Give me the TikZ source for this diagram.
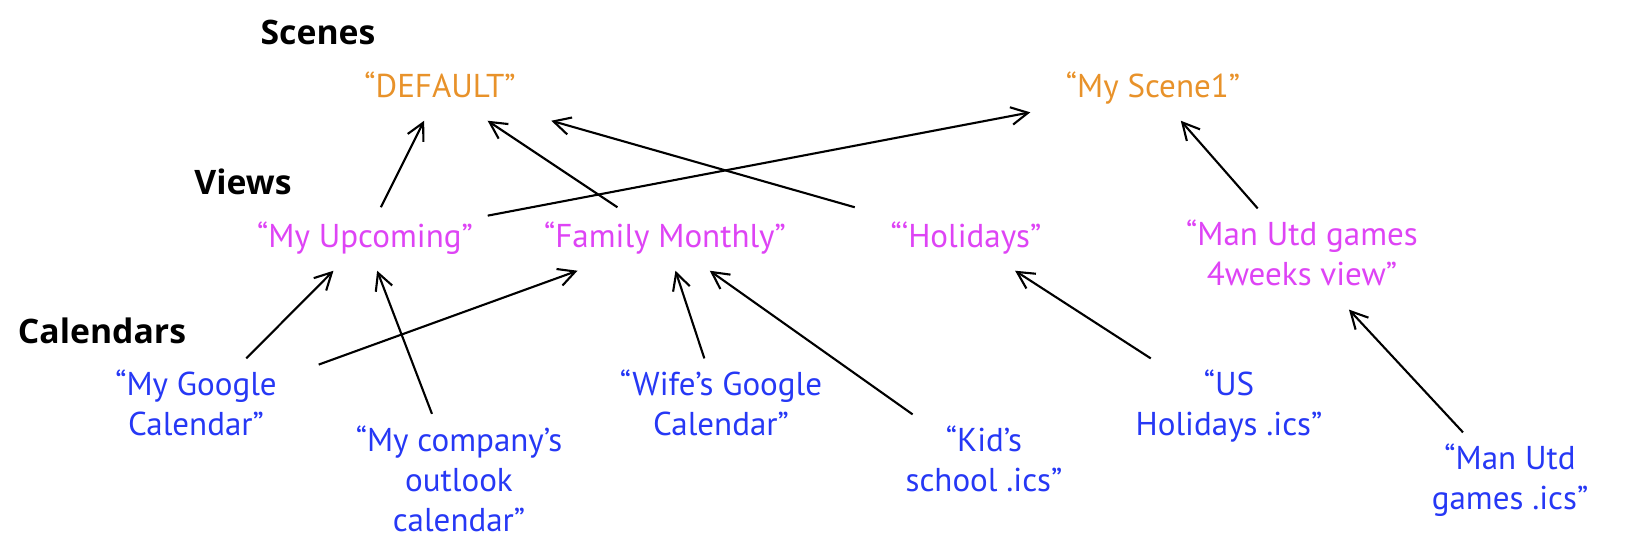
\documentclass[tikz,border=0pt]{standalone}
\usepackage{fontspec}
\setmainfont{PT Sans}
\newfontfamily\headfont{Open Sans}
\usepackage{tikz}
\usetikzlibrary{arrows.meta}
\definecolor{scenecolor}{RGB}{232,146,42}
\definecolor{viewcolor}{RGB}{222,68,245}
\definecolor{calcolor}{RGB}{38,56,245}
\tikzset{
	header/.style={
		font=\headfont\fontsize{9.6pt}{11.4pt}\selectfont\bfseries,
		inner sep=0pt,
	},
	box/.style={
		rectangle,
		minimum width=2.44cm,
		inner xsep=0pt,
		inner ysep=0.11cm,
		align=center,
		font=\fontsize{9.4pt}{11.4pt}\selectfont,
		execute at begin node=\strut,
		execute at end node=\strut,
	},
	scene/.style={
		box,
		text=scenecolor,
	},
	view/.style={
		box,
		text=viewcolor,
	},
	calendar/.style={
		box,
		text=calcolor,
	},
	arrow/.style={
		-{Straight Barb[length=4.8pt,width=5pt]},
		semithick,
	},
}
\begin{document}
\begin{tikzpicture}
		\useasboundingbox (0,0) rectangle (16.31,-5.52) ;

		% Level headers
		\node[header] (scenes) at (3.18,-0.32) {Scenes} ;
		\node[header] (views) at (2.43,-1.815) {Views} ;
		\node[header] (calendars) at (1.02,-3.31) {Calendars} ;

		% Scenes
		\node[scene] (default) at (4.40,-0.89) {“DEFAULT”} ;
		\node[scene] (scene1) at (11.53,-0.89) {“My Scene1”} ;

		% Views
		\node[view] (upcoming) at (3.65,-2.39) {“My Upcoming”} ;
		\node[view] (family) at (6.65,-2.39) {“Family Monthly”} ;
		\node[view] (holidays) at (9.66,-2.39) {“‘Holidays”} ;
		\node[view] (mutdview) at (13.02,-2.59) {“Man Utd games\\4weeks view”} ;

		% Calendars
		\node[calendar] (mygoogle) at (1.96,-4.09) {“My Google\\Calendar”} ;
		\node[calendar] (company) at (4.59,-4.845) {“My company’s\\outlook\\calendar”} ;
		\node[calendar] (wife) at (7.21,-4.09) {“Wife’s Google\\Calendar”} ;
		\node[calendar] (kid) at (9.84,-4.65) {“Kid’s\\school .ics”} ;
		\node[calendar] (usics) at (12.29,-4.09) {“US\\Holidays .ics”} ;
		\node[calendar] (mutdics) at (15.10,-4.83) {“Man Utd\\games .ics”} ;

		\draw[arrow] (upcoming) -- (default) ;
		\draw[arrow] (family) -- (default) ;
		\draw[arrow] (holidays) -- (default) ;
		\draw[arrow] (upcoming) -- (scene1) ;
		\draw[arrow] (mutdview) -- (scene1) ;

		\draw[arrow] (mygoogle) -- (upcoming) ;
		\draw[arrow] (mygoogle) -- (family) ;
		\draw[arrow] (company) -- (upcoming) ;
		\draw[arrow] (wife) -- (family) ;
		\draw[arrow] (kid) -- (family) ;
		\draw[arrow] (usics) -- (holidays) ;
		\draw[arrow] (mutdics) -- (mutdview) ;

	\end{tikzpicture}
\end{document}
